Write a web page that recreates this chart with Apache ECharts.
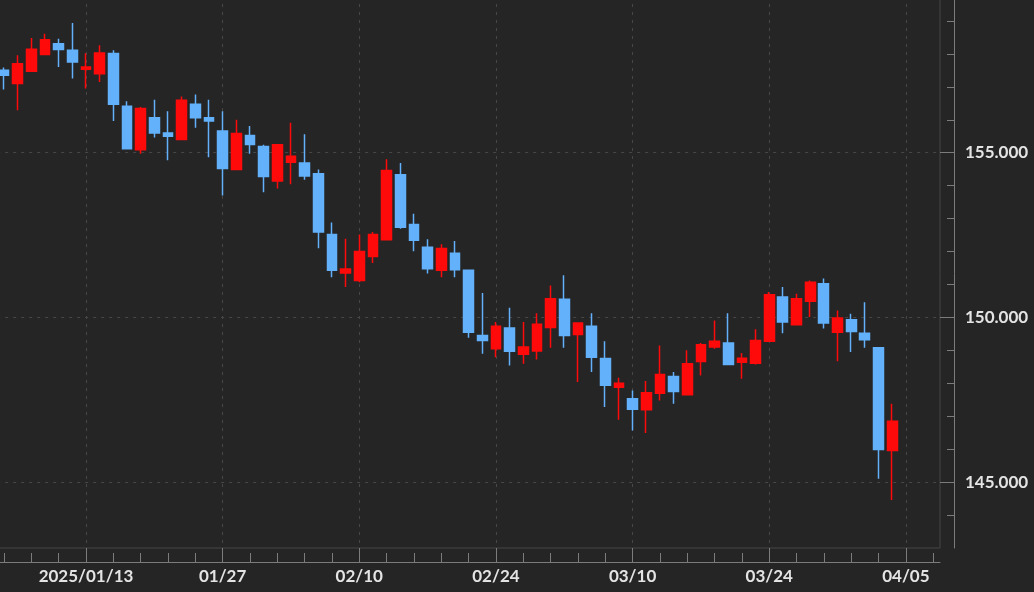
<!DOCTYPE html>
<html>
<head>
<meta charset="utf-8">
<script src="https://cdn.jsdelivr.net/npm/echarts@6/dist/echarts.min.js"></script>
<style>
html,body{margin:0;padding:0;background:#252525;}
#chart{width:1034px;height:592px;}
</style>
</head>
<body>
<div id="chart"></div>
<script>
// Trading-day categories (last three slots are empty future slots)
var dates = [
  '2025/01/03','2025/01/06','2025/01/07','2025/01/08','2025/01/09','2025/01/10',
  '2025/01/13','2025/01/14','2025/01/15','2025/01/16','2025/01/17',
  '2025/01/20','2025/01/21','2025/01/22','2025/01/23','2025/01/24',
  '2025/01/27','2025/01/28','2025/01/29','2025/01/30','2025/01/31',
  '2025/02/03','2025/02/04','2025/02/05','2025/02/06','2025/02/07',
  '2025/02/10','2025/02/11','2025/02/12','2025/02/13','2025/02/14',
  '2025/02/17','2025/02/18','2025/02/19','2025/02/20','2025/02/21',
  '2025/02/24','2025/02/25','2025/02/26','2025/02/27','2025/02/28',
  '2025/03/03','2025/03/04','2025/03/05','2025/03/06','2025/03/07',
  '2025/03/10','2025/03/11','2025/03/12','2025/03/13','2025/03/14',
  '2025/03/17','2025/03/18','2025/03/19','2025/03/20','2025/03/21',
  '2025/03/24','2025/03/25','2025/03/26','2025/03/27','2025/03/28',
  '2025/03/31','2025/04/01','2025/04/02','2025/04/03','2025/04/04',
  '2025/04/05','2025/04/07','2025/04/08'
];
var opens  = [157.50,157.10,157.47,157.98,158.31,158.11,157.53,157.40,158.01,156.41,
              155.09,156.06,155.60,155.40,156.47,156.06,155.66,154.49,155.52,155.19,
              154.14,154.71,154.69,154.36,152.52,151.35,151.12,151.85,152.36,154.33,
              152.82,152.13,151.43,151.95,151.43,149.45,149.05,149.68,148.88,148.98,
              149.69,150.55,149.48,149.73,148.75,147.88,147.53,147.20,147.70,148.21,
              147.65,148.66,149.10,149.22,148.64,148.61,149.28,150.62,149.78,150.49,
              151.02,149.55,149.93,149.52,149.08,145.96];
var closes = [157.35,157.70,158.14,158.43,158.13,157.75,157.60,158.03,156.47,155.12,
              156.34,155.60,155.50,156.59,156.06,155.96,154.52,155.58,155.25,154.28,
              155.24,154.89,154.29,152.59,151.43,151.47,152.00,152.52,154.46,152.74,
              152.34,151.48,152.09,151.45,149.55,149.30,149.73,148.97,149.10,149.79,
              150.57,149.45,149.83,148.79,147.94,148.00,147.21,147.71,148.27,147.75,
              148.59,149.17,149.28,148.57,148.76,149.30,150.69,149.86,150.57,151.07,
              149.83,149.98,149.57,149.32,145.99,146.85];
var lows   = [156.92,156.29,157.46,157.96,157.60,157.25,156.95,157.15,155.96,155.10,
              154.97,155.46,154.77,155.38,155.76,154.86,153.70,154.47,154.97,153.80,
              153.91,154.04,154.18,152.10,151.22,150.92,151.07,151.65,152.34,152.69,
              152.01,151.33,151.22,151.22,149.38,148.90,148.79,148.54,148.59,148.72,
              149.08,149.08,148.04,148.34,147.28,146.89,146.57,146.49,147.48,147.38,
              147.63,148.24,149.05,148.55,148.14,148.57,149.26,149.52,149.76,150.01,
              149.66,148.67,148.95,149.08,145.10,144.46];
var highs  = [157.59,157.96,158.48,158.61,158.46,158.94,158.02,158.26,158.11,156.56,
              156.39,156.61,156.26,156.71,156.77,156.61,156.26,156.00,155.81,155.24,
              155.26,155.91,155.56,154.49,152.88,152.39,152.52,152.59,154.80,154.69,
              153.15,152.37,152.22,152.32,151.45,150.74,149.86,150.29,149.86,150.13,
              150.97,151.28,149.85,150.13,149.28,148.17,147.78,148.07,149.15,148.34,
              149.00,149.22,149.91,150.13,148.92,149.64,150.77,150.92,150.72,151.12,
              151.18,150.21,150.11,150.46,149.10,147.38];
var yTicks = [145, 150, 155];
var yMinorTicks = [144,146,147,148,149,151,152,153,154,156,157,158,159];
var xLabelDates = ['2025/01/13','2025/01/27','2025/02/10','2025/02/24','2025/03/10','2025/03/24','2025/04/05'];

var candles = opens.map(function (o, i) { return [o, closes[i], lows[i], highs[i]]; });
var isLabel = function (idx, val) { return xLabelDates.indexOf(dates[idx]) >= 0; };
var fmtDate = function (val) { return val === xLabelDates[0] ? val : val.slice(5); };

var axisColor = '#7c7c7c';
var gridLineColor = '#474747';
var textColor = '#e4e4e4';
var font = 'Lato';

var chart = echarts.init(document.getElementById('chart'), null, {renderer: 'canvas'});
chart.setOption({
  backgroundColor: '#252525',
  animation: false,
  grid: {left: -2.8, right: 94, top: -12, bottom: 44, show: true, borderColor: gridLineColor, borderWidth: 1,
    containLabel: false, outerBoundsMode: 'none'},
  xAxis: [{
    type: 'category', data: dates, boundaryGap: true, position: 'bottom', offset: 14,
    axisLine: {show: true, lineStyle: {color: axisColor, width: 1}},
    axisTick: {show: true, inside: true, alignWithLabel: true, length: 9,
      interval: function (idx) { return idx % 2 === 0; }, lineStyle: {color: axisColor}},
    axisLabel: {show: false}, splitLine: {show: false}
  }, {
    type: 'category', data: dates, boundaryGap: true, position: 'bottom', offset: 14,
    axisLine: {show: false},
    axisTick: {show: true, inside: true, alignWithLabel: true, length: 14, interval: isLabel, lineStyle: {color: axisColor}},
    axisLabel: {show: true, interval: isLabel, formatter: fmtDate, color: textColor, fontFamily: font, fontWeight: 'bold', fontSize: 17, margin: 6},
    splitLine: {show: true, interval: isLabel, alignWithLabel: true, lineStyle: {color: gridLineColor, type: [3, 5]}}
  }],
  yAxis: [{
    type: 'value', min: 143, max: 160, splitNumber: 3, position: 'right', offset: 14, scale: true,
    axisLine: {show: true, lineStyle: {color: axisColor}},
    axisTick: {show: true, inside: true, length: 7, customValues: yMinorTicks, lineStyle: {color: axisColor}},
    axisLabel: {show: false}, splitLine: {show: false}
  }, {
    type: 'value', min: 143, max: 160, splitNumber: 3, position: 'right', offset: 14, scale: true,
    axisLine: {show: false},
    axisTick: {show: true, inside: true, length: 14, customValues: yTicks, lineStyle: {color: axisColor}},
    axisLabel: {show: true, customValues: yTicks, color: textColor, fontFamily: font, fontWeight: 'bold', fontSize: 17, margin: 11,
      formatter: function (v) { return v.toFixed(3); }},
    splitLine: {show: true, lineStyle: {color: gridLineColor, type: [3, 5]}}
  }],
  series: [{
    type: 'candlestick', xAxisIndex: 0, yAxisIndex: 0, data: candles, barWidth: '75%',
    itemStyle: {color: '#ff0a0a', color0: '#63b1fb', borderColor: '#ff0a0a', borderColor0: '#63b1fb', borderWidth: 1.5}
  }]
});
</script>
</body>
</html>
